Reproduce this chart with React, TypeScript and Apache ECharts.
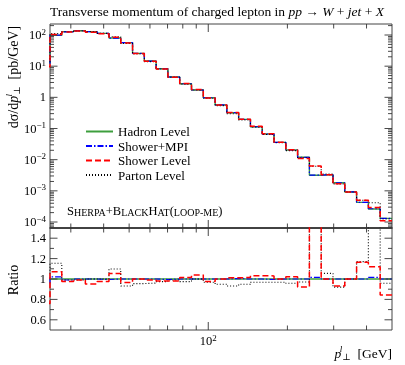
import React, { useEffect, useRef } from 'react';
import * as echarts from 'echarts';

// ---- data ----
// bin edges in GeV (first bin starts below the visible range)
const binEdges = [22.55, 25, 27.72, 30.74, 34.08, 37.79, 41.9, 46.46, 51.52, 57.12, 63.34, 70.23, 77.87, 86.34, 95.74, 106.2, 117.7, 130.5, 144.7, 160.4, 177.9, 197.3, 218.7, 242.5, 268.9, 298.2, 330.6, 366.6, 406.5, 450.8, 500];
// Hadron level dσ/dp⊥ [pb/GeV] per bin
const hadronLevel = [12.5, 97, 128, 137, 128, 113, 80, 57, 25.7, 14.6, 8.3, 4.5, 2.73, 1.72, 0.97, 0.57, 0.32, 0.197, 0.114, 0.0665, 0.036, 0.0204, 0.0119, 0.00316, 0.0033, 0.00182, 0.00092, 0.000427, 0.000262, 0.000131];
// ratios to hadron level
const ratioShowerMPI = [0.96, 1.02, 0.99, 1.0, 1.0, 0.995, 1.0, 1.0, 1.0, 1.0, 0.995, 1.0, 1.0, 1.0, 1.0, 1.0, 1.005, 1.0, 1.0, 0.995, 1.0, 1.0, 1.0, 1.015, 1.0, 1.0, 1.0, 1.0, 1.015, 1.0];
const ratioShowerLevel = [0.76, 1.07, 0.975, 0.99, 0.95, 0.975, 1.055, 0.965, 1.0, 0.99, 0.98, 0.98, 1.015, 1.04, 0.975, 1.0, 1.012, 1.015, 1.033, 1.03, 1.0, 1.022, 0.922, 2.0, 1.0, 0.932, 1.0, 1.163, 1.12, 0.844];
const ratioPartonLevel = [1.05, 1.155, 0.99, 0.99, 1.0, 1.0, 1.098, 0.932, 0.955, 0.96, 0.974, 0.99, 0.974, 1.0, 0.968, 0.948, 0.932, 0.948, 0.968, 0.968, 0.968, 0.958, 0.97, 1.95, 1.055, 0.92, 1.0, 1.17, 1.58, 0.958];

const seriesNames = ['Hadron Level', 'Shower+MPI', 'Shower Level', 'Parton Level'];
const xTicksMinor = [30, 40, 50, 60, 70, 80, 90, 200, 300, 400];
const xTicksMajor = [100];
const ratioLabels = [0.6, 0.8, 1.0, 1.2, 1.4];
const ratioMinorStep = 0.1;

const X_EXT = [25, 500];
const Y_EXT = [6.42e-5, 225.5];
const R_EXT = [0.5, 1.5];

const FONT = '"Liberation Serif", "DejaVu Serif", serif';
const COLORS = { hadron: '#3d9e3d', mpi: '#0000ff', shower: '#ff0000', parton: '#000000' };

function stepData(vals: number[]) {
  const pts: number[][] = [];
  for (let i = 0; i < vals.length; i++) pts.push([binEdges[i], vals[i]]);
  pts.push([binEdges[binEdges.length - 1], vals[vals.length - 1]]);
  return pts;
}

function tickSeries(gi: number, xt: number[][], yt: number[][], yExt: number[], lens: any) {
  const data: number[][] = [];
  xt.forEach((t) => data.push([t[0], yExt[0], 0, t[1]]));
  yt.forEach((t) => data.push([X_EXT[0], t[0], 1, t[1]]));
  return {
    type: 'custom',
    xAxisIndex: gi,
    yAxisIndex: gi,
    silent: true,
    z: 5,
    encode: { x: 0, y: 1 },
    data,
    renderItem: (params: any, api: any) => {
      const kind = api.value(2);
      const major = api.value(3) === 1;
      const style = { stroke: '#333', lineWidth: 0.9 };
      if (kind === 0) {
        const v = api.value(0);
        const len = major ? lens.xMaj : lens.xMin;
        const b = api.coord([v, yExt[0]]);
        const t = api.coord([v, yExt[1]]);
        return {
          type: 'group',
          children: [
            { type: 'line', shape: { x1: b[0], y1: b[1], x2: b[0], y2: b[1] - len }, style },
            { type: 'line', shape: { x1: t[0], y1: t[1], x2: t[0], y2: t[1] + len }, style },
          ],
        };
      }
      const v = api.value(1);
      const len = major ? lens.yMaj : lens.yMin;
      const l = api.coord([X_EXT[0], v]);
      const r = api.coord([X_EXT[1], v]);
      return {
        type: 'group',
        children: [
          { type: 'line', shape: { x1: l[0], y1: l[1], x2: l[0] + len, y2: l[1] }, style },
          { type: 'line', shape: { x1: r[0], y1: r[1], x2: r[0] - len, y2: r[1] }, style },
        ],
      };
    },
  };
}

const supRich = {
  b: { fontFamily: FONT, fontSize: 12.5, lineHeight: 16, color: '#000' },
  s: { fontFamily: FONT, fontSize: 9, lineHeight: 9, verticalAlign: 'top', color: '#000' },
};

function logLabel(v: number) {
  const lg = Math.log10(v);
  const e = Math.round(lg);
  if (Math.abs(lg - e) > 1e-6) return '';
  if (e === 0) return '{b|1}';
  return '{b|10}{s|' + (e < 0 ? '\u2212' + -e : String(e)) + '}';
}

export default function App() {
  const ref = useRef<HTMLDivElement>(null);
  useEffect(() => {
    if (!ref.current) return;
    const chart = echarts.init(ref.current, undefined, { renderer: 'svg' });

    const mainYTicks: number[][] = [];
    for (let e = -5; e <= 2; e++) {
      for (let m = 1; m <= 9; m++) {
        const v = m * Math.pow(10, e);
        if (v > Y_EXT[0] && v < Y_EXT[1]) mainYTicks.push([v, m === 1 ? 1 : 0]);
      }
    }
    const xTicks = [...xTicksMinor.map((v) => [v, 0]), ...xTicksMajor.map((v) => [v, 1])];
    const ratioYTicks: number[][] = [];
    for (let k = Math.round(R_EXT[0] / ratioMinorStep) + 1; k < Math.round(R_EXT[1] / ratioMinorStep); k++) {
      const v = k * ratioMinorStep;
      const isMaj = ratioLabels.some((r) => Math.abs(r - v) < 1e-6);
      ratioYTicks.push([v, isMaj ? 1 : 0]);
    }

    const styles: Record<string, any> = {
      'Hadron Level': { color: COLORS.hadron, width: 1.4, type: 'solid' },
      'Shower+MPI': { color: COLORS.mpi, width: 1.2, type: [6, 2, 1.5, 2] },
      'Shower Level': { color: COLORS.shower, width: 1.5, type: [6, 3] },
      'Parton Level': { color: COLORS.parton, width: 1.1, type: [1, 2] },
    };
    const ratios: Record<string, number[]> = {
      'Hadron Level': hadronLevel.map(() => 1),
      'Shower+MPI': ratioShowerMPI,
      'Shower Level': ratioShowerLevel,
      'Parton Level': ratioPartonLevel,
    };
    const drawOrder = ['Hadron Level', 'Shower+MPI', 'Parton Level', 'Shower Level'];
    const lineSeries: any[] = [];
    drawOrder.forEach((name, idx) => {
      const main = hadronLevel.map((h, i) => h * ratios[name][i]);
      const base = {
        type: 'line', name, step: 'end', symbol: 'none', showSymbol: false, clip: true,
        lineStyle: styles[name], itemStyle: { color: styles[name].color }, z: 2 + idx,
      };
      lineSeries.push({ ...base, xAxisIndex: 0, yAxisIndex: 0, data: stepData(main) });
      lineSeries.push({ ...base, xAxisIndex: 1, yAxisIndex: 1, data: stepData(ratios[name]) });
    });

    const mkRich = (fs: number) => ({
      n: { fontFamily: FONT, fontSize: fs, lineHeight: 17, color: '#000' },
      i: { fontFamily: FONT, fontSize: fs, lineHeight: 17, fontStyle: 'italic', color: '#000' },
      sup: { fontFamily: FONT, fontSize: 9, lineHeight: 9, verticalAlign: 'top', fontStyle: 'italic', width: 1, color: '#000' },
      sub: { fontFamily: FONT, fontSize: 9, lineHeight: 9, verticalAlign: 'bottom', color: '#000' },
    });

    const option: any = {
      animation: false,
      grid: [
        { left: 50, top: 24, width: 342, height: 204, show: true, borderColor: '#444', borderWidth: 1 },
        { left: 50, top: 228, width: 342, height: 102, show: true, borderColor: '#444', borderWidth: 1 },
      ],
      xAxis: [
        { type: 'log', gridIndex: 0, min: X_EXT[0], max: X_EXT[1], axisLine: { show: true, lineStyle: { color: '#333', width: 1.6 } }, axisTick: { show: false }, axisLabel: { show: false }, splitLine: { show: false } },
        { type: 'log', gridIndex: 1, min: X_EXT[0], max: X_EXT[1], axisLine: { show: false }, axisTick: { show: false }, splitLine: { show: false },
          axisLabel: { margin: 3, formatter: (v: number) => (Math.abs(v - 100) < 1e-6 ? logLabel(v) : ''), rich: supRich } },
      ],
      yAxis: [
        { type: 'log', gridIndex: 0, min: Y_EXT[0], max: Y_EXT[1], axisLine: { show: false }, axisTick: { show: false }, splitLine: { show: false },
          axisLabel: { margin: 4, formatter: logLabel, rich: supRich } },
        { type: 'value', gridIndex: 1, min: R_EXT[0], max: R_EXT[1], interval: 0.1, axisLine: { show: false }, axisTick: { show: false }, splitLine: { show: false },
          axisLabel: { margin: 4, fontFamily: FONT, fontSize: 12.5, color: '#000',
            formatter: (v: number) => {
              const hit = ratioLabels.find((r) => Math.abs(r - v) < 1e-6);
              return hit === undefined ? '' : (Math.abs(hit - 1) < 1e-6 ? '1' : hit.toFixed(1));
            } } },
      ],
      legend: {
        data: seriesNames, orient: 'vertical', left: 85, top: 125, padding: 0, itemWidth: 27, itemHeight: 14, itemGap: 1.5,
        itemStyle: { opacity: 0 },
        textStyle: { fontFamily: FONT, fontSize: 13, color: '#000' },
      },
      graphic: [
        { type: 'text', x: 50, y: 11, style: { text: '{n|Transverse momentum of charged lepton in }{i|pp}{n| \u2192 }{i|W}{n| + }{i|jet}{n| + }{i|X}', rich: mkRich(13.5), align: 'left', verticalAlign: 'middle' } },
        { type: 'text', x: 13, y: 77, rotation: Math.PI / 2, style: { text: '{n|d\u03c3/d}{i|p}{sup|l}{sub|\u22a5}{n|  [pb/GeV]}', rich: mkRich(14), align: 'center', verticalAlign: 'middle' } },
        { type: 'text', x: 13, y: 280, rotation: Math.PI / 2, style: { text: '{n|Ratio}', rich: mkRich(14), align: 'center', verticalAlign: 'middle' } },
        { type: 'text', x: 392, y: 353, style: { text: '{i|p}{sup|l}{sub|\u22a5}{n|  [GeV]}', rich: mkRich(13.5), align: 'right', verticalAlign: 'middle' } },
        { type: 'text', x: 67, y: 211, style: {
          text: '{L|S}{s|HERPA}{L|+B}{s|LACK}{L|H}{s|AT}{L|(}{s|LOOP-ME}{L|)}',
          rich: {
            L: { fontFamily: FONT, fontSize: 12.5, lineHeight: 12.5, verticalAlign: 'bottom', color: '#999' },
            s: { fontFamily: FONT, fontSize: 10, lineHeight: 10, verticalAlign: 'bottom', color: '#999' },
          }, align: 'left', verticalAlign: 'middle' } },
      ],
      series: [
        ...lineSeries,
        tickSeries(0, xTicks, mainYTicks, Y_EXT, { xMaj: 8, xMin: 4.5, yMaj: 7.5, yMin: 4 }),
        tickSeries(1, xTicks, ratioYTicks, R_EXT, { xMaj: 8, xMin: 4.5, yMaj: 7.5, yMin: 4 }),
      ],
    };
    chart.setOption(option);
    return () => chart.dispose();
  }, []);
  return <div ref={ref} style={{ position: 'fixed', left: 0, top: 0, width: 405, height: 365 }} />;
}
